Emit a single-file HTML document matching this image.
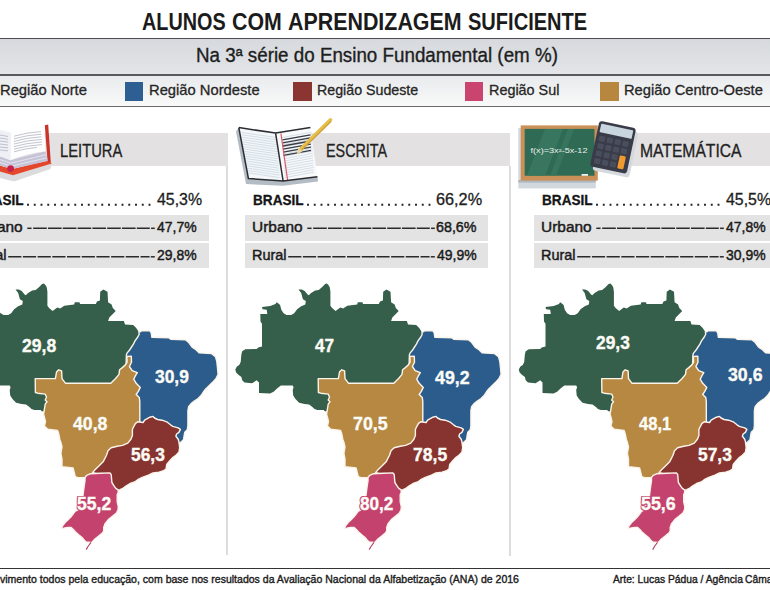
<!DOCTYPE html>
<html><head><meta charset="utf-8"><style>
*{margin:0;padding:0;box-sizing:border-box}
html,body{width:770px;height:590px;overflow:hidden;background:#fff}
body{position:relative;font-family:"Liberation Sans",sans-serif;color:#222}
.t{position:absolute;white-space:nowrap;transform-origin:0 0}
.a{position:absolute}
</style></head><body>
<div class="a" style="left:0;top:37.6px;width:770px;height:1.6px;background:#4d4d4f"></div>
<div class="a" style="left:0;top:39.2px;width:770px;height:34.8px;background:linear-gradient(#d6d9dd,#e3e5e8)"></div>
<div class="a" style="left:0;top:74px;width:770px;height:1.8px;background:#5a5a5c"></div>
<div class="a" style="left:0;top:75.8px;width:770px;height:30px;background:linear-gradient(#e9eaec,#f9f9f9)"></div>
<div class="a" style="left:0;top:105.8px;width:770px;height:1.6px;background:#6a6a6a"></div>
<div class="a" style="left:125.3px;top:82px;width:18px;height:18.8px;background:#2d5f93"></div>
<div class="a" style="left:292.9px;top:82.3px;width:19.3px;height:18.3px;background:#8a3532"></div>
<div class="a" style="left:465px;top:82.3px;width:18.3px;height:18.3px;background:#c9446f"></div>
<div class="a" style="left:599.8px;top:82.3px;width:19px;height:18.3px;background:#b8873f"></div>
<!-- header bands -->
<div class="a" style="left:0;top:132.8px;width:227.5px;height:32.8px;background:#e3e1e1"></div>
<div class="a" style="left:300px;top:132.8px;width:210.2px;height:33.2px;background:#e3e1e1"></div>
<div class="a" style="left:590px;top:132.6px;width:180px;height:33.1px;background:#e3e1e1"></div>
<!-- separators -->
<div class="a" style="left:226.2px;top:165.6px;width:1.5px;height:389px;background:#dddddd"></div>
<div class="a" style="left:509.2px;top:166px;width:1.5px;height:389.5px;background:#dddddd"></div>
<!-- rows -->
<div class="a" style="left:0;top:214.5px;width:208.5px;height:26.6px;background:#e3e3e3"></div>
<div class="a" style="left:0;top:243.3px;width:208.5px;height:25.1px;background:#e3e3e3"></div>
<div class="a" style="left:244.5px;top:214.5px;width:243.5px;height:26.6px;background:#e3e3e3"></div>
<div class="a" style="left:244.5px;top:243.3px;width:243.5px;height:25.1px;background:#e3e3e3"></div>
<div class="a" style="left:534px;top:214.5px;width:236px;height:26.6px;background:#e3e3e3"></div>
<div class="a" style="left:534px;top:243.3px;width:236px;height:25.1px;background:#e3e3e3"></div>
<!-- footer line -->
<div class="a" style="left:0;top:567.8px;width:770px;height:1.2px;background:#333"></div>
<svg class="a" style="left:0;top:0" width="770" height="590" viewBox="0 0 770 590">
<polygon points="0,171 13,175 51.8,163.5 50.5,169 14,181.5 0,178" fill="#dcdcde"/>
<polygon points="0,165.5 12,169 48,160.5 51.8,163.5 13,175.2 0,171.5" fill="#e4472b"/>
<polygon points="44.8,125.2 48.2,124.4 50.8,162.8 47.6,161.6" fill="#c9332a"/>
<polygon points="0,156.5 10.2,160.3 45.6,151.3 47.8,161 12,169 0,165.5" fill="#c7c3d7"/>
<g stroke="#ecebf2" stroke-width="0.8" fill="none"><path d="M0,159.5 L10.6,163.2 L46.4,154.6"/><path d="M0,162.5 L11.2,166.2 L47,157.8"/></g>
<path d="M10.5,132.6 Q27,127.6 44.2,127.7 L45.6,151.3 Q27,153.2 10.2,160.3 Z" fill="#fefefe"/>
<path d="M0,130 Q6,131 10.5,132.6 L10.2,160.3 Q5,157.8 0,156.5 Z" fill="#eff0f5"/>
<g stroke="#a7abba" stroke-width="0.7" fill="none">
<path d="M14,136.2 Q27,132.4 41,131.6"/><path d="M14,138.8 Q27,135 41.5,134.2"/><path d="M14,141.4 Q27,137.6 41.5,136.8"/>
<path d="M14,144 Q27,140.2 42,139.4"/><path d="M14,146.6 Q27,142.8 42,142"/><path d="M14,149.2 Q27,145.4 42,144.6"/><path d="M14,151.8 Q25,148.4 37,147.4"/>
<path d="M0,135 L8,136.5"/><path d="M0,138 L8,139.3"/><path d="M0,141 L8,142.1"/><path d="M0,144 L8,145"/><path d="M0,147 L8,147.9"/><path d="M0,150 L8,150.8"/>
</g>
<circle cx="10.6" cy="168.6" r="3.4" fill="#c4234b"/>

<polygon points="236,131.5 246,184 283,185.8 318,181.5 317.5,176.5 283,181 248.4,178.5 238.8,127.6" fill="#b3bcc4"/>
<polygon points="238.8,127.6 275.6,133.1 283.1,181 248.4,178.5" fill="#f4f7f9"/>
<polygon points="275.6,133.1 310.4,127.6 317.4,176.7 283.1,181" fill="#f7f9fb"/>
<g stroke="#c6d3de" stroke-width="0.7"><path d="M241.5,132.5 L277.0,137.6"/><path d="M241.7,134.8 L277.2,139.9"/><path d="M241.9,137.2 L277.3,142.3"/><path d="M242.2,139.6 L277.5,144.7"/><path d="M242.4,141.9 L277.6,147.0"/><path d="M242.6,144.2 L277.8,149.3"/><path d="M242.8,146.6 L278.0,151.7"/><path d="M243.0,148.9 L278.1,154.0"/><path d="M243.3,151.3 L278.3,156.4"/><path d="M243.5,153.7 L278.4,158.8"/><path d="M243.7,156.0 L278.6,161.1"/><path d="M243.9,158.3 L278.8,163.4"/><path d="M244.1,160.7 L278.9,165.8"/><path d="M244.4,163.1 L279.1,168.2"/><path d="M244.6,165.4 L279.2,170.5"/><path d="M244.8,167.8 L279.4,172.8"/><path d="M245.0,170.1 L279.6,175.2"/><path d="M245.2,172.4 L279.7,177.6"/><path d="M282.0,137.6 L311.5,132.2"/><path d="M282.2,139.9 L311.6,134.5"/><path d="M282.3,142.3 L311.8,136.9"/><path d="M282.5,144.7 L311.9,139.2"/><path d="M282.6,147.0 L312.1,141.6"/><path d="M282.8,149.3 L312.2,143.9"/><path d="M283.0,151.7 L312.3,146.3"/><path d="M283.1,154.0 L312.5,148.6"/><path d="M283.3,156.4 L312.6,151.0"/><path d="M283.4,158.8 L312.8,153.3"/><path d="M283.6,161.1 L312.9,155.7"/><path d="M283.8,163.4 L313.0,158.0"/><path d="M283.9,165.8 L313.2,160.4"/><path d="M284.1,168.2 L313.3,162.8"/><path d="M284.2,170.5 L313.5,165.1"/><path d="M284.4,172.8 L313.6,167.4"/><path d="M284.6,175.2 L313.7,169.8"/><path d="M284.7,177.6 L313.9,172.1"/></g>
<g stroke="#3a3d45" stroke-width="1.3"><path d="M282.5,139.8 L310.5,134.8"/><path d="M282.7,142.9 L310.6,137.9"/><path d="M282.9,146.0 L310.7,141.0"/><path d="M283.1,149.1 L310.8,144.1"/><path d="M283.3,152.2 L310.9,147.2"/><path d="M283.5,155.3 L311.0,150.3"/></g>
<path d="M280.9,133.4 L287.6,180.2" stroke="#e05060" stroke-width="1.1"/>
<path d="M238.8,127.6 L275.6,133.1 L310.4,127.6 M238.8,127.6 L248.4,178.5 L283.1,181 L317.4,176.7 M275.6,133.1 L283.1,181" stroke="#2b2d33" stroke-width="1.5" fill="none" stroke-linejoin="round"/>
<path d="M330.5,119.8 L300.5,149.3" stroke="#e6bf4a" stroke-width="3.6" stroke-linecap="round"/>
<path d="M331.2,121.2 L302,149.8" stroke="#cfa035" stroke-width="1.2"/>
<polygon points="298.5,148 302.2,151.8 296.8,154.3" fill="#f2d7a6"/>

<rect x="518.3" y="128" width="77.5" height="60.4" fill="#d2d9de"/><rect x="518.3" y="180" width="77.5" height="2.6" fill="#aeb7bf"/>
<rect x="520.7" y="125.4" width="77.1" height="55.2" fill="#c99058"/>
<rect x="524.7" y="128.9" width="69.8" height="46.8" fill="#2f6a55"/>
<polygon points="545,128.9 563,128.9 545,175.7 527,175.7" fill="#3a7862" opacity="0.9"/>
<polygon points="568,128.9 574,128.9 556,175.7 550,175.7" fill="#3a7862" opacity="0.8"/>
<text x="530.5" y="152.5" font-family="Liberation Sans" font-size="6.4" fill="#e8f0ea" textLength="57" lengthAdjust="spacingAndGlyphs">f(x)=3x²-5x-12</text>
<rect x="581.6" y="174" width="6.4" height="1.8" fill="#f4f4f4"/>

<g transform="translate(615.5,151.3) rotate(12.0)"><rect x="-18.75" y="-23.25" width="37.5" height="46.5" rx="3" fill="#d5d9dd"/></g>
<g transform="translate(613.0,147.3) rotate(12.0)">
<rect x="-18.75" y="-23.25" width="37.5" height="46.5" rx="3" fill="#393c48"/>
<rect x="-16.35" y="-20.65" width="32.7" height="8.6" rx="0.8" fill="#c8d4de"/>
<rect x="-15.6" y="-8.8" width="6.2" height="5.6" rx="1.2" fill="#4a4e5c"/><rect x="-7.6" y="-8.8" width="6.2" height="5.6" rx="1.2" fill="#4a4e5c"/><rect x="0.4" y="-8.8" width="6.2" height="5.6" rx="1.2" fill="#4a4e5c"/><rect x="8.4" y="-8.8" width="6.2" height="5.6" rx="1.2" fill="#4a4e5c"/><rect x="-15.6" y="-1.2" width="6.2" height="5.6" rx="1.2" fill="#4a4e5c"/><rect x="-7.6" y="-1.2" width="6.2" height="5.6" rx="1.2" fill="#4a4e5c"/><rect x="0.4" y="-1.2" width="6.2" height="5.6" rx="1.2" fill="#4a4e5c"/><rect x="8.4" y="-1.2" width="6.2" height="5.6" rx="1.2" fill="#4a4e5c"/><rect x="-15.6" y="6.4" width="6.2" height="5.6" rx="1.2" fill="#4a4e5c"/><rect x="-7.6" y="6.4" width="6.2" height="5.6" rx="1.2" fill="#4a4e5c"/><rect x="0.4" y="6.4" width="6.2" height="5.6" rx="1.2" fill="#4a4e5c"/><rect x="-15.6" y="14.0" width="6.2" height="5.6" rx="1.2" fill="#4a4e5c"/><rect x="-7.6" y="14.0" width="6.2" height="5.6" rx="1.2" fill="#4a4e5c"/><rect x="0.4" y="14.0" width="6.2" height="5.6" rx="1.2" fill="#4a4e5c"/>
<rect x="8.4" y="6.4" width="6.2" height="13.2" rx="1.2" fill="#f39a2f"/>
</g>
</svg>
<svg class="a" style="left:0;top:0" width="770" height="590" viewBox="0 0 770 590">
<defs><g id="br" stroke="#fbf4ea" stroke-width="1.4" stroke-linejoin="round">
<polygon points="325.9,411.4 324.5,410.9 323.6,410.0 317.3,410.0 314.5,409.1 312.7,407.3 309.1,404.5 304.5,404.1 299.1,402.7 295.5,399.1 293.2,395.5 292.7,390.0 293.6,387.3 292.7,385.5 280.9,385.5 277.3,388.2 273.6,391.8 270.0,393.5 259.0,393.1 259.0,382.4 256.7,380.2 252.1,383.2 244.5,382.4 242.2,380.2 241.4,377.1 238.4,374.8 236.1,372.5 235.3,369.5 236.9,366.4 239.2,364.9 240.7,361.9 241.4,354.2 242.2,351.2 245.3,349.3 256.7,348.9 258.2,347.4 262.0,346.6 262.0,323.7 260.5,321.4 260.3,313.9 267.3,313.9 266.7,309.8 262.6,309.2 262.0,306.9 270.2,305.9 275.5,304.0 276.6,302.2 278.4,303.4 280.1,305.1 281.3,309.8 283.6,313.3 286.6,315.1 291.2,315.1 294.2,313.3 297.1,309.2 301.2,306.3 305.3,304.5 305.8,301.0 302.9,299.3 301.8,295.2 301.2,292.9 298.5,289.4 301.8,289.6 304.7,291.1 307.6,294.6 308.8,295.2 311.1,292.9 315.2,290.5 318.7,289.9 322.2,287.0 325.1,284.1 326.9,283.5 328.6,285.3 329.8,287.6 330.4,291.7 330.4,305.7 332.1,308.1 335.6,311.0 337.3,309.8 340.3,307.5 343.2,308.6 347.3,305.7 357.2,304.5 357.8,302.2 362.5,302.2 363.0,304.0 378.8,304.0 380.0,301.6 382.9,300.5 383.2,291.7 386.4,289.4 390.5,291.7 391.1,302.2 394.6,304.5 395.8,308.1 398.7,311.0 395.8,313.9 392.3,317.4 391.1,320.9 406.9,321.1 408.0,324.4 416.2,325.0 419.2,327.9 421.5,331.4 423.0,333.0 430.0,340.0 428.0,380.0 400.0,400.0 340.0,405.0" fill="#355f4a" stroke="none"/>
<polygon points="423.8,331.5 424.5,330.8 432.9,330.8 434.2,332.8 434.9,337.3 451.8,337.7 453.7,339.3 468.6,339.9 471.2,341.9 475.1,347.1 479.0,349.7 482.3,352.9 494.6,353.6 498.5,356.8 499.8,361.4 500.5,367.9 501.1,374.4 498.9,378.8 496.4,381.4 493.8,383.9 491.3,386.4 488.7,389.0 486.8,391.5 484.3,395.3 481.1,398.5 477.3,401.1 474.1,403.6 471.6,406.8 470.9,410.6 470.9,418.2 470.9,425.8 470.3,429.7 467.8,432.2 467.1,436.0 466.5,439.8 463.6,442.6 455.0,444.0 435.0,440.0 414.0,428.0 412.0,400.0 409.0,368.0 409.4,355.0 410.0,353.1 412.4,350.3 414.2,347.5 416.1,344.7 418.0,340.9 420.8,337.0 422.2,334.2 421.9,332.0" fill="#2c5c8c"/>
<polygon points="318.2,378.6 338.4,378.6 339.5,372.0 341.7,369.8 344.6,370.9 345.0,378.6 348.4,383.2 393.8,383.2 395.8,381.2 398.6,378.5 402.0,374.4 402.6,369.7 405.3,367.6 408.4,364.9 410.1,362.2 409.9,356.4 414.3,356.2 414.5,362.2 412.4,366.5 415.2,370.6 420.3,372.6 418.2,376.2 416.7,379.2 419.2,383.3 423.3,387.4 421.3,391.4 419.2,394.5 422.3,397.5 422.8,401.6 422.8,421.0 425.0,432.0 405.0,455.0 385.0,472.0 375.0,478.0 371.5,475.6 367.1,477.8 361.6,477.8 358.3,476.7 357.2,472.3 356.1,467.9 345.0,466.8 345.0,459.1 343.9,453.5 345.0,446.9 343.9,442.5 342.8,439.2 341.7,433.7 340.6,430.4 330.7,429.3 327.4,426.0 328.5,421.6 327.4,417.2 326.5,414.0 327.3,410.0 328.2,404.1 330.0,401.8 328.2,400.0 329.5,397.3 328.2,394.1 320.8,393.2 318.4,392.5" fill="#b68842"/>
<polygon points="418.5,423.3 420.7,421.8 426.1,422.5 427.6,420.2 432.9,417.2 436.0,416.4 437.5,418.0 440.6,419.5 445.1,420.2 449.7,421.8 453.5,424.8 455.8,426.3 461.2,427.9 463.4,429.4 461.9,432.4 459.6,434.0 458.9,436.3 461.2,439.3 461.9,441.6 462.7,447.7 461.9,452.3 458.9,455.3 455.8,457.6 452.8,460.7 449.7,464.5 449.0,469.0 446.7,470.6 442.1,472.1 436.0,472.9 431.4,475.1 425.3,477.4 420.7,479.7 417.7,482.0 413.1,483.5 409.3,485.8 406.3,488.1 403.2,489.6 400.2,490.4 396.0,492.0 390.0,476.0 375.5,472.6 378.0,469.8 381.9,466.0 386.4,461.4 389.5,455.3 391.0,450.7 394.1,447.7 400.2,446.2 405.5,445.4 410.8,443.1 413.9,439.3 415.4,435.5 415.4,429.4 416.9,426.3" fill="#873430"/>
<polygon points="368.0,477.7 369.6,475.3 373.6,473.7 383.3,473.2 392.9,472.9 394.2,474.5 394.9,482.5 397.0,485.8 398.6,488.2 401.0,489.8 401.3,492.2 400.2,494.6 400.2,501.9 401.3,506.7 401.0,509.9 399.4,513.1 395.4,516.3 391.3,519.6 388.1,523.6 386.7,527.6 386.7,530.7 385.6,532.8 382.0,535.9 377.9,539.0 374.6,542.6 372.4,542.3 369.2,541.9 367.8,540.9 365.1,537.5 361.7,534.8 358.3,531.8 356.3,529.4 354.2,527.4 350.8,527.4 346.8,528.1 344.7,528.4 345.4,526.0 348.1,522.6 350.8,519.9 353.6,517.2 356.3,513.8 358.3,511.1 360.8,510.0 362.4,508.3 364.0,503.5 365.6,498.6 366.4,492.2 367.2,485.8 368.0,480.9" fill="#c4426e"/>
<path d="M374,542.4 L371.3,546 L369.2,549.6" stroke="#b53e66" stroke-width="1.1" fill="none"/>
</g></defs>
<use href="#br" transform="translate(-283,0)"/>
<use href="#br"/>
<use href="#br" transform="translate(283.5,0)"/>
</svg>
<svg class="a" style="left:0;top:0" width="770" height="590"><line x1="27.05" y1="204.8" x2="150.45" y2="204.8" stroke="#222" stroke-width="1.9" stroke-dasharray="1.9 4.85"/><line x1="27.30" y1="228.3" x2="31.60" y2="228.3" stroke="#2a2a2a" stroke-width="1.5"/><line x1="33.20" y1="228.3" x2="149.80" y2="228.3" stroke="#2a2a2a" stroke-width="1.5" stroke-dasharray="13.6 1.2"/><line x1="151.10" y1="228.3" x2="154.80" y2="228.3" stroke="#2a2a2a" stroke-width="1.5"/><line x1="8.20" y1="256.8" x2="149.60" y2="256.8" stroke="#2a2a2a" stroke-width="1.5" stroke-dasharray="13.2 1.5"/><line x1="150.80" y1="256.8" x2="154.80" y2="256.8" stroke="#2a2a2a" stroke-width="1.5"/><line x1="307.05" y1="204.8" x2="430.45" y2="204.8" stroke="#222" stroke-width="1.9" stroke-dasharray="1.9 4.85"/><line x1="307.30" y1="228.3" x2="311.60" y2="228.3" stroke="#2a2a2a" stroke-width="1.5"/><line x1="313.20" y1="228.3" x2="429.80" y2="228.3" stroke="#2a2a2a" stroke-width="1.5" stroke-dasharray="13.6 1.2"/><line x1="431.10" y1="228.3" x2="434.80" y2="228.3" stroke="#2a2a2a" stroke-width="1.5"/><line x1="288.20" y1="256.8" x2="429.60" y2="256.8" stroke="#2a2a2a" stroke-width="1.5" stroke-dasharray="13.2 1.5"/><line x1="430.80" y1="256.8" x2="434.80" y2="256.8" stroke="#2a2a2a" stroke-width="1.5"/><line x1="596.05" y1="204.8" x2="719.45" y2="204.8" stroke="#222" stroke-width="1.9" stroke-dasharray="1.9 4.85"/><line x1="596.30" y1="228.3" x2="600.60" y2="228.3" stroke="#2a2a2a" stroke-width="1.5"/><line x1="602.20" y1="228.3" x2="718.80" y2="228.3" stroke="#2a2a2a" stroke-width="1.5" stroke-dasharray="13.6 1.2"/><line x1="720.10" y1="228.3" x2="723.80" y2="228.3" stroke="#2a2a2a" stroke-width="1.5"/><line x1="577.20" y1="256.8" x2="718.60" y2="256.8" stroke="#2a2a2a" stroke-width="1.5" stroke-dasharray="13.2 1.5"/><line x1="719.80" y1="256.8" x2="723.80" y2="256.8" stroke="#2a2a2a" stroke-width="1.5"/></svg>
<div class="t" style="left:142.19px;top:9.80px;font-size:24.6px;line-height:24.6px;font-weight:700;color:#1b1b1b;transform:scaleX(0.8059);">ALUNOS</div><div class="t" style="left:232.23px;top:9.80px;font-size:24.6px;line-height:24.6px;font-weight:700;color:#1b1b1b;transform:scaleX(0.8673);">COM</div><div class="t" style="left:287.73px;top:9.80px;font-size:24.6px;line-height:24.6px;font-weight:700;color:#1b1b1b;transform:scaleX(0.8701);">APRENDIZAGEM</div><div class="t" style="left:467.68px;top:9.80px;font-size:24.6px;line-height:24.6px;font-weight:700;color:#1b1b1b;transform:scaleX(0.8152);">SUFICIENTE</div><div class="t" style="left:195.83px;top:45.50px;font-size:19.3px;line-height:19.3px;font-weight:400;color:#1e1e1e;transform:scaleX(0.9741);-webkit-text-stroke:0.35px #1e1e1e;">Na 3ª série do Ensino Fundamental (em %)</div><div class="t" style="left:0.19px;top:83.30px;font-size:14.6px;line-height:14.6px;font-weight:400;color:#262626;transform:scaleX(1.0106);-webkit-text-stroke:0.3px currentColor;">Região Norte</div><div class="t" style="left:148.69px;top:83.30px;font-size:14.6px;line-height:14.6px;font-weight:400;color:#262626;transform:scaleX(1.0102);-webkit-text-stroke:0.3px currentColor;">Região Nordeste</div><div class="t" style="left:317.43px;top:83.30px;font-size:14.6px;line-height:14.6px;font-weight:400;color:#262626;transform:scaleX(0.9748);-webkit-text-stroke:0.3px currentColor;">Região Sudeste</div><div class="t" style="left:488.51px;top:83.30px;font-size:14.6px;line-height:14.6px;font-weight:400;color:#262626;transform:scaleX(0.9857);-webkit-text-stroke:0.3px currentColor;">Região Sul</div><div class="t" style="left:623.59px;top:83.30px;font-size:14.6px;line-height:14.6px;font-weight:400;color:#262626;transform:scaleX(1.0066);-webkit-text-stroke:0.3px currentColor;">Região Centro-Oeste</div><div class="t" style="left:60.17px;top:142.50px;font-size:17.7px;line-height:17.7px;font-weight:400;color:#222;transform:scaleX(0.8338);-webkit-text-stroke:0.3px currentColor;">LEITURA</div><div class="t" style="left:325.59px;top:142.50px;font-size:17.7px;line-height:17.7px;font-weight:400;color:#222;transform:scaleX(0.8108);-webkit-text-stroke:0.3px currentColor;">ESCRITA</div><div class="t" style="left:640.11px;top:142.50px;font-size:17.7px;line-height:17.7px;font-weight:400;color:#222;transform:scaleX(0.8860);-webkit-text-stroke:0.3px currentColor;">MATEMÁTICA</div><div class="t" style="left:-27.17px;top:193.40px;font-size:14.0px;line-height:14.0px;font-weight:700;color:#151515;transform:scaleX(0.9706);-webkit-text-stroke:0.3px #151515;">BRASIL</div><div class="t" style="left:156.90px;top:192.30px;font-size:15.8px;line-height:15.8px;font-weight:400;color:#1e1e1e;transform:scaleX(1.0067);-webkit-text-stroke:0.3px currentColor;">45,3%</div><div class="t" style="left:-27.71px;top:219.30px;font-size:15.3px;line-height:15.3px;font-weight:400;color:#1a1a1a;transform:scaleX(1.0102);-webkit-text-stroke:0.45px currentColor;">Urbano</div><div class="t" style="left:157.30px;top:220.40px;font-size:14.8px;line-height:14.8px;font-weight:400;color:#1a1a1a;transform:scaleX(0.9429);-webkit-text-stroke:0.45px currentColor;">47,7%</div><div class="t" style="left:-27.65px;top:247.20px;font-size:15.3px;line-height:15.3px;font-weight:400;color:#1a1a1a;transform:scaleX(0.9457);-webkit-text-stroke:0.45px currentColor;">Rural</div><div class="t" style="left:157.30px;top:248.40px;font-size:14.8px;line-height:14.8px;font-weight:400;color:#1a1a1a;transform:scaleX(0.9429);-webkit-text-stroke:0.45px currentColor;">29,8%</div><div class="t" style="left:252.83px;top:193.40px;font-size:14.0px;line-height:14.0px;font-weight:700;color:#151515;transform:scaleX(0.9706);-webkit-text-stroke:0.3px #151515;">BRASIL</div><div class="t" style="left:435.87px;top:192.30px;font-size:15.8px;line-height:15.8px;font-weight:400;color:#1e1e1e;transform:scaleX(1.0295);-webkit-text-stroke:0.3px currentColor;">66,2%</div><div class="t" style="left:252.29px;top:219.30px;font-size:15.3px;line-height:15.3px;font-weight:400;color:#1a1a1a;transform:scaleX(1.0102);-webkit-text-stroke:0.45px currentColor;">Urbano</div><div class="t" style="left:436.33px;top:220.40px;font-size:14.8px;line-height:14.8px;font-weight:400;color:#1a1a1a;transform:scaleX(0.9659);-webkit-text-stroke:0.45px currentColor;">68,6%</div><div class="t" style="left:252.35px;top:247.20px;font-size:15.3px;line-height:15.3px;font-weight:400;color:#1a1a1a;transform:scaleX(0.9457);-webkit-text-stroke:0.45px currentColor;">Rural</div><div class="t" style="left:437.30px;top:248.40px;font-size:14.8px;line-height:14.8px;font-weight:400;color:#1a1a1a;transform:scaleX(0.9429);-webkit-text-stroke:0.45px currentColor;">49,9%</div><div class="t" style="left:541.83px;top:193.40px;font-size:14.0px;line-height:14.0px;font-weight:700;color:#151515;transform:scaleX(0.9706);-webkit-text-stroke:0.3px #151515;">BRASIL</div><div class="t" style="left:725.90px;top:192.30px;font-size:15.8px;line-height:15.8px;font-weight:400;color:#1e1e1e;transform:scaleX(1.0067);-webkit-text-stroke:0.3px currentColor;">45,5%</div><div class="t" style="left:541.29px;top:219.30px;font-size:15.3px;line-height:15.3px;font-weight:400;color:#1a1a1a;transform:scaleX(1.0102);-webkit-text-stroke:0.45px currentColor;">Urbano</div><div class="t" style="left:726.30px;top:220.40px;font-size:14.8px;line-height:14.8px;font-weight:400;color:#1a1a1a;transform:scaleX(0.9429);-webkit-text-stroke:0.45px currentColor;">47,8%</div><div class="t" style="left:541.35px;top:247.20px;font-size:15.3px;line-height:15.3px;font-weight:400;color:#1a1a1a;transform:scaleX(0.9457);-webkit-text-stroke:0.45px currentColor;">Rural</div><div class="t" style="left:726.30px;top:248.40px;font-size:14.8px;line-height:14.8px;font-weight:400;color:#1a1a1a;transform:scaleX(0.9429);-webkit-text-stroke:0.45px currentColor;">30,9%</div><div class="t" style="left:21.80px;top:336.80px;font-size:18.2px;line-height:18.2px;font-weight:700;color:#fbfbf6;transform:scaleX(0.9657);text-shadow:1px 0 0 #355f4a,-1px 0 0 #355f4a,0 1px 0 #355f4a,0 -1px 0 #355f4a,1px 1px 0 #355f4a,-1px -1px 0 #355f4a,1px -1px 0 #355f4a,-1px 1px 0 #355f4a;-webkit-text-stroke:0.35px #fbfbf6;">29,8</div><div class="t" style="left:154.70px;top:368.40px;font-size:18.2px;line-height:18.2px;font-weight:700;color:#fbfbf6;transform:scaleX(0.9571);text-shadow:1px 0 0 #2c5c8c,-1px 0 0 #2c5c8c,0 1px 0 #2c5c8c,0 -1px 0 #2c5c8c,1px 1px 0 #2c5c8c,-1px -1px 0 #2c5c8c,1px -1px 0 #2c5c8c,-1px 1px 0 #2c5c8c;-webkit-text-stroke:0.35px #fbfbf6;">30,9</div><div class="t" style="left:73.20px;top:414.80px;font-size:18.2px;line-height:18.2px;font-weight:700;color:#fbfbf6;transform:scaleX(0.9714);text-shadow:1px 0 0 #b68842,-1px 0 0 #b68842,0 1px 0 #b68842,0 -1px 0 #b68842,1px 1px 0 #b68842,-1px -1px 0 #b68842,1px -1px 0 #b68842,-1px 1px 0 #b68842;-webkit-text-stroke:0.35px #fbfbf6;">40,8</div><div class="t" style="left:131.34px;top:445.80px;font-size:18.2px;line-height:18.2px;font-weight:700;color:#fbfbf6;transform:scaleX(0.9559);text-shadow:1px 0 0 #873430,-1px 0 0 #873430,0 1px 0 #873430,0 -1px 0 #873430,1px 1px 0 #873430,-1px -1px 0 #873430,1px -1px 0 #873430,-1px 1px 0 #873430;-webkit-text-stroke:0.35px #fbfbf6;">56,3</div><div class="t" style="left:77.44px;top:494.50px;font-size:18.2px;line-height:18.2px;font-weight:700;color:#fbfbf6;transform:scaleX(0.9647);text-shadow:1px 0 0 #c4426e,-1px 0 0 #c4426e,0 1px 0 #c4426e,0 -1px 0 #c4426e,1px 1px 0 #c4426e,-1px -1px 0 #c4426e,1px -1px 0 #c4426e,-1px 1px 0 #c4426e;-webkit-text-stroke:0.35px #fbfbf6;">55,2</div><div class="t" style="left:314.90px;top:336.80px;font-size:18.2px;line-height:18.2px;font-weight:700;color:#fbfbf6;transform:scaleX(0.9450);text-shadow:1px 0 0 #355f4a,-1px 0 0 #355f4a,0 1px 0 #355f4a,0 -1px 0 #355f4a,1px 1px 0 #355f4a,-1px -1px 0 #355f4a,1px -1px 0 #355f4a,-1px 1px 0 #355f4a;-webkit-text-stroke:0.35px #fbfbf6;">47</div><div class="t" style="left:435.00px;top:368.70px;font-size:18.2px;line-height:18.2px;font-weight:700;color:#fbfbf6;transform:scaleX(0.9771);text-shadow:1px 0 0 #2c5c8c,-1px 0 0 #2c5c8c,0 1px 0 #2c5c8c,0 -1px 0 #2c5c8c,1px 1px 0 #2c5c8c,-1px -1px 0 #2c5c8c,1px -1px 0 #2c5c8c,-1px 1px 0 #2c5c8c;-webkit-text-stroke:0.35px #fbfbf6;">49,2</div><div class="t" style="left:353.12px;top:414.60px;font-size:18.2px;line-height:18.2px;font-weight:700;color:#fbfbf6;transform:scaleX(0.9794);text-shadow:1px 0 0 #b68842,-1px 0 0 #b68842,0 1px 0 #b68842,0 -1px 0 #b68842,1px 1px 0 #b68842,-1px -1px 0 #b68842,1px -1px 0 #b68842,-1px 1px 0 #b68842;-webkit-text-stroke:0.35px #fbfbf6;">70,5</div><div class="t" style="left:412.84px;top:445.70px;font-size:18.2px;line-height:18.2px;font-weight:700;color:#fbfbf6;transform:scaleX(0.9647);text-shadow:1px 0 0 #873430,-1px 0 0 #873430,0 1px 0 #873430,0 -1px 0 #873430,1px 1px 0 #873430,-1px -1px 0 #873430,1px -1px 0 #873430,-1px 1px 0 #873430;-webkit-text-stroke:0.35px #fbfbf6;">78,5</div><div class="t" style="left:360.00px;top:494.60px;font-size:18.2px;line-height:18.2px;font-weight:700;color:#fbfbf6;transform:scaleX(0.9429);text-shadow:1px 0 0 #c4426e,-1px 0 0 #c4426e,0 1px 0 #c4426e,0 -1px 0 #c4426e,1px 1px 0 #c4426e,-1px -1px 0 #c4426e,1px -1px 0 #c4426e,-1px 1px 0 #c4426e;-webkit-text-stroke:0.35px #fbfbf6;">80,2</div><div class="t" style="left:596.20px;top:334.20px;font-size:18.2px;line-height:18.2px;font-weight:700;color:#fbfbf6;transform:scaleX(0.9543);text-shadow:1px 0 0 #355f4a,-1px 0 0 #355f4a,0 1px 0 #355f4a,0 -1px 0 #355f4a,1px 1px 0 #355f4a,-1px -1px 0 #355f4a,1px -1px 0 #355f4a,-1px 1px 0 #355f4a;-webkit-text-stroke:0.35px #fbfbf6;">29,3</div><div class="t" style="left:727.80px;top:366.20px;font-size:18.2px;line-height:18.2px;font-weight:700;color:#fbfbf6;transform:scaleX(0.9743);text-shadow:1px 0 0 #2c5c8c,-1px 0 0 #2c5c8c,0 1px 0 #2c5c8c,0 -1px 0 #2c5c8c,1px 1px 0 #2c5c8c,-1px -1px 0 #2c5c8c,1px -1px 0 #2c5c8c,-1px 1px 0 #2c5c8c;-webkit-text-stroke:0.35px #fbfbf6;">30,6</div><div class="t" style="left:639.10px;top:414.80px;font-size:18.2px;line-height:18.2px;font-weight:700;color:#fbfbf6;transform:scaleX(0.9086);text-shadow:1px 0 0 #b68842,-1px 0 0 #b68842,0 1px 0 #b68842,0 -1px 0 #b68842,1px 1px 0 #b68842,-1px -1px 0 #b68842,1px -1px 0 #b68842,-1px 1px 0 #b68842;-webkit-text-stroke:0.35px #fbfbf6;">48,1</div><div class="t" style="left:698.14px;top:445.80px;font-size:18.2px;line-height:18.2px;font-weight:700;color:#fbfbf6;transform:scaleX(0.9559);text-shadow:1px 0 0 #873430,-1px 0 0 #873430,0 1px 0 #873430,0 -1px 0 #873430,1px 1px 0 #873430,-1px -1px 0 #873430,1px -1px 0 #873430,-1px 1px 0 #873430;-webkit-text-stroke:0.35px #fbfbf6;">57,3</div><div class="t" style="left:640.52px;top:494.50px;font-size:18.2px;line-height:18.2px;font-weight:700;color:#fbfbf6;transform:scaleX(0.9824);text-shadow:1px 0 0 #c4426e,-1px 0 0 #c4426e,0 1px 0 #c4426e,0 -1px 0 #c4426e,1px 1px 0 #c4426e,-1px -1px 0 #c4426e,1px -1px 0 #c4426e,-1px 1px 0 #c4426e;-webkit-text-stroke:0.35px #fbfbf6;">55,6</div><div class="t" style="left:0.30px;top:572.80px;font-size:11.6px;line-height:11.6px;font-weight:400;color:#1c1c1c;transform:scaleX(0.9081);-webkit-text-stroke:0.4px #1c1c1c;">vimento todos pela educação, com base nos resultados da Avaliação Nacional da Alfabetização (ANA) de 2016</div><div class="t" style="left:612.50px;top:572.80px;font-size:11.6px;line-height:11.6px;font-weight:400;color:#1c1c1c;transform:scaleX(0.8877);-webkit-text-stroke:0.4px #1c1c1c;">Arte: Lucas Pádua / Agência</div><div class="t" style="left:745.40px;top:572.80px;font-size:11.6px;line-height:11.6px;font-weight:400;color:#1c1c1c;transform:scaleX(0.8880);-webkit-text-stroke:0.4px #1c1c1c;">Câmara</div>
</body></html>
